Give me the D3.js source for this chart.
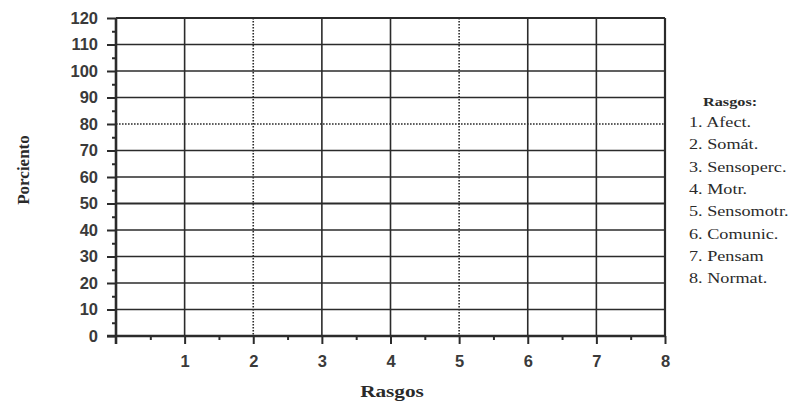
<!DOCTYPE html>
<html>
<head>
<meta charset="utf-8">
<script src="https://cdn.jsdelivr.net/npm/d3@7"></script>
<style>
  body { margin: 0; background: #fff; }
  svg { display: block; }
</style>
</head>
<body>
<svg id="chart" width="794" height="406"></svg>
<script>
// axis ranges and ticks
const xDomain = [0, 8];
const yDomain = [0, 120];
const xTicks = [1, 2, 3, 4, 5, 6, 7, 8];
const xMinorTicks = [0.5, 1.5, 2.5, 3.5, 4.5, 5.5, 6.5, 7.5];
const yTicks = [0, 10, 20, 30, 40, 50, 60, 70, 80, 90, 100, 110, 120];
const yMinorTicks = [5, 15, 25, 35, 45, 55, 65, 75, 85, 95, 105, 115];

// grid lines drawn dotted / heavier in the scan
const xDotted = [2, 5];
const yDotted = [80];
const yHeavy = [50];

const legendTitle = "Rasgos:";
const legendItems = ["1. Afect.", "2. Somát.", "3. Sensoperc.", "4. Motr.",
  "5. Sensomotr.", "6. Comunic.", "7. Pensam", "8. Normat."];

const svg = d3.select("#chart");
const margin = { top: 18, right: 129, bottom: 70, left: 116 };
const width = 794 - margin.left - margin.right;
const height = 406 - margin.top - margin.bottom;
const ink = "#2b2b2b";
const serif = "Liberation Serif, Times New Roman, serif";

const g = svg.append("g")
  .attr("transform", "translate(" + margin.left + "," + margin.top + ")");

const x = d3.scaleLinear().domain(xDomain).range([0, width]);
const y = d3.scaleLinear().domain(yDomain).range([height, 0]);

// horizontal grid
g.append("g")
  .selectAll("line")
  .data(yTicks.filter(d => d > 0))
  .enter().append("line")
  .attr("x1", 0)
  .attr("x2", width)
  .attr("y1", d => y(d))
  .attr("y2", d => y(d))
  .attr("stroke", ink)
  .attr("stroke-width", d => yHeavy.includes(d) ? 2.2 : 1.6)
  .attr("stroke-dasharray", d => yDotted.includes(d) ? "1.6,1.4" : null);

// vertical grid
g.append("g")
  .selectAll("line")
  .data(xTicks)
  .enter().append("line")
  .attr("x1", d => x(d))
  .attr("x2", d => x(d))
  .attr("y1", 0)
  .attr("y2", height)
  .attr("stroke", ink)
  .attr("stroke-width", d => d === 8 ? 2.2 : 1.6)
  .attr("stroke-dasharray", d => xDotted.includes(d) ? "1.6,1.4" : null);

// axes
const yAxis = g.append("g")
  .call(d3.axisLeft(y).tickValues(yTicks).tickSize(9).tickPadding(9));
const yMinor = g.append("g")
  .call(d3.axisLeft(y).tickValues(yMinorTicks).tickSize(4).tickFormat(""));
const xAxis = g.append("g")
  .attr("transform", "translate(0," + height + ")")
  .call(d3.axisBottom(x).tickValues(xTicks).tickSize(8).tickPadding(11));
const xMinor = g.append("g")
  .attr("transform", "translate(0," + height + ")")
  .call(d3.axisBottom(x).tickValues(xMinorTicks).tickSize(4).tickFormat(""));

[yAxis, yMinor, xAxis, xMinor].forEach(a => {
  a.select(".domain").remove();
  a.selectAll("line").attr("stroke", ink).attr("stroke-width", 2);
  a.selectAll("text")
    .attr("fill", "#3a3a3a")
    .attr("font-family", "Liberation Sans, Arial, sans-serif")
    .attr("font-weight", "bold")
    .attr("font-size", 16.5);
});

// axis lines (drawn over grid)
g.append("line")
  .attr("x1", 0).attr("x2", 0).attr("y1", 0).attr("y2", height + 8)
  .attr("stroke", ink).attr("stroke-width", 2.6);
g.append("line")
  .attr("x1", -9).attr("x2", width).attr("y1", height).attr("y2", height)
  .attr("stroke", ink).attr("stroke-width", 2.6);
g.append("line")
  .attr("x1", 0).attr("x2", width).attr("y1", 0).attr("y2", 0)
  .attr("stroke", ink).attr("stroke-width", 2.2);

// axis titles
svg.append("text")
  .attr("transform", "translate(392,397) scale(1.25,1)")
  .attr("text-anchor", "middle")
  .attr("font-family", serif)
  .attr("font-weight", "bold")
  .attr("font-size", 17)
  .attr("fill", "#2a2a2a")
  .text("Rasgos");

svg.append("text")
  .attr("transform", "translate(29,170) rotate(-90)")
  .attr("text-anchor", "middle")
  .attr("font-family", serif)
  .attr("font-weight", "bold")
  .attr("font-size", 17)
  .attr("fill", "#2a2a2a")
  .text("Porciento");

// legend
const legend = svg.append("g")
  .attr("font-family", serif)
  .attr("font-size", 14)
  .attr("fill", "#2a2a2a");

legend.append("text")
  .attr("transform", "translate(703,106) scale(1.3,1)")
  .attr("font-weight", "bold")
  .attr("font-size", 12.5)
  .text(legendTitle);

legend.selectAll("text.item")
  .data(legendItems)
  .enter().append("text")
  .attr("class", "item")
  .attr("transform", (d, i) => "translate(689," + (127 + i * 22.3) + ") scale(1.3,1)")
  .text(d => d);
</script>
</body>
</html>
